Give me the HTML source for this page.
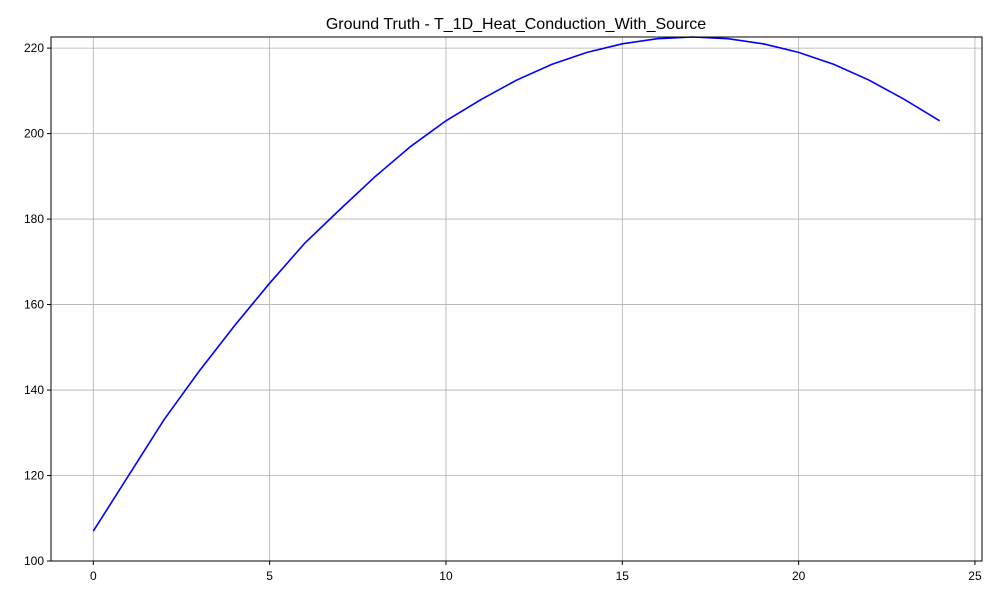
<!DOCTYPE html>
<html><head><meta charset="utf-8"><style>
body{margin:0;background:#fff;font-family:"Liberation Sans","DejaVu Sans",sans-serif}
</style></head><body>
<svg id="chart" width="1000" height="600" xmlns="http://www.w3.org/2000/svg">
<text x="516" y="29" font-size="16" text-anchor="middle">Ground Truth - T_1D_Heat_Conduction_With_Source</text>
<g id="grid"></g>
<g id="ticks"></g>
<path id="series" fill="none" stroke="#0000ff" stroke-width="1.6"/>
<rect x="51" y="37" width="931" height="524" fill="none" stroke="#000" stroke-width="1"/>
</svg>
<script>
const xValues=[0,1,2,3,4,5,6,7,8,9,10,11,12,13,14,15,16,17,18,19,20,21,22,23,24];
const yValues=[107,120,133,144.4,155,165,174.4,182.3,190,197,203,208,212.5,216.2,219,221,222.2,222.6,222.2,221,219,216.2,212.5,208,203];
const xTicks=[0,5,10,15,20,25];
const yTicks=[100,120,140,160,180,200,220];
const L=51,R=982,T=37,B=561;
const xMin=-1.2,xMax=25.2,yMin=100,yMax=222.6;
const sx=v=>L+(v-xMin)/(xMax-xMin)*(R-L);
const sy=v=>B-(v-yMin)/(yMax-yMin)*(B-T);
const NS="http://www.w3.org/2000/svg";
const grid=document.getElementById('grid'),ticks=document.getElementById('ticks');
function mk(tag,attrs,parent){const e=document.createElementNS(NS,tag);for(const k in attrs)e.setAttribute(k,attrs[k]);parent.appendChild(e);return e;}
xTicks.forEach(t=>{const x=sx(t);
 const g=mk('line',{x1:x,x2:x,y1:T,y2:B,stroke:'#b0b0b0','stroke-width':0.8},grid);
 
 
 const tk=mk('line',{x1:x,x2:x,y1:B,y2:B+4,stroke:'#000'},ticks);
 
 
 const tx=mk('text',{x:x,y:B+19,'font-size':12,'text-anchor':'middle'},ticks);tx.textContent=t;
 
 
});
yTicks.forEach(t=>{const y=sy(t);
 const g=mk('line',{x1:L,x2:R,y1:y,y2:y,stroke:'#b0b0b0','stroke-width':0.8},grid);
 
 
 const tk=mk('line',{x1:L-4,x2:L,y1:y,y2:y,stroke:'#000'},ticks);
 
 
 const tx=mk('text',{x:L-7,y:y+4,'font-size':12,'text-anchor':'end'},ticks);tx.textContent=t;
 
 
});
document.getElementById('series').setAttribute('d',xValues.map((x,i)=>(i?'L':'M')+sx(x)+' '+sy(yValues[i])).join(' '));
</script>
</body></html>
